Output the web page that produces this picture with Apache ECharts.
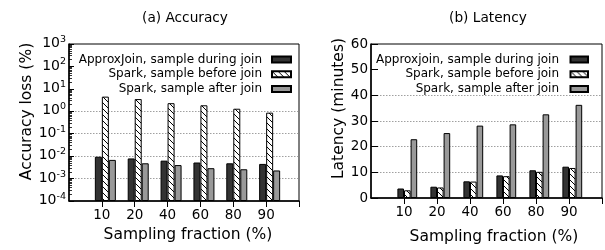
<!DOCTYPE html>
<html>
<head>
<meta charset="utf-8">
<script src="https://cdn.jsdelivr.net/npm/echarts@6/dist/echarts.min.js"></script>
<style>html,body{margin:0;padding:0;background:#fff;}#c{width:605px;height:250px;}</style>
</head>
<body>
<div id="c"></div>
<script>
// ---- data ----
const categories = ['10', '20', '40', '60', '80', '90'];
const seriesNamesAcc = ['ApproxJoin, sample during join', 'Spark, sample before join', 'Spark, sample after join'];
const seriesNamesLat = ['Approxjoin, sample during join', 'Spark, sample before join', 'Spark, sample after join'];
const accApprox = [0.0094, 0.0079, 0.0063, 0.0052, 0.0048, 0.0045];
const accBefore = [4.5, 3.5, 2.3, 1.85, 1.3, 0.87];
const accAfter  = [0.0068, 0.0048, 0.0040, 0.0029, 0.0026, 0.0023];
const latApprox = [3.7, 4.4, 6.5, 8.8, 10.8, 12.2];
const latBefore = [3.0, 4.1, 6.4, 8.5, 10.2, 11.7];
const latAfter  = [22.9, 25.3, 28.2, 28.7, 32.6, 36.3];
const titles = ['(a) Accuracy', '(b) Latency'];
const yNames = ['Accuracy loss (%)', 'Latency (minutes)'];
const xName = 'Sampling fraction (%)';

// ---- styles ----
const FONT = 'DejaVu Sans';
function hatchCanvas() {
  const c = document.createElement('canvas');
  c.width = 6; c.height = 6;
  const g = c.getContext('2d');
  g.fillStyle = '#fff'; g.fillRect(0, 0, 6, 6);
  g.strokeStyle = '#000'; g.lineWidth = 1;
  g.beginPath();
  for (const o of [-6, 0, 6]) { g.moveTo(o - 1, -1); g.lineTo(o + 7, 7); }
  g.stroke();
  return c;
}
const hatch = { image: hatchCanvas(), repeat: 'repeat' };
const fills = ['#333333', hatch, '#999999'];
const gridColorsLog = ['transparent', '#888', '#888', '#888', '#888', 'transparent', 'transparent', 'transparent'];
const gridColorsLin = ['transparent', '#888', '#888', '#888', '#888', 'transparent', 'transparent'];

function xAxisOpt(gridIndex, maxV, nameGap, namePad) {
  return {
    type: 'category', gridIndex, data: categories, boundaryGap: false, min: -1, max: maxV,
    axisLine: { lineStyle: { color: '#000', width: 1.5 } },
    axisTick: { show: true, inside: false, length: 6, interval: (i) => i >= 0, lineStyle: { color: '#000' } },
    axisLabel: { interval: (i) => i >= 0, formatter: (v) => (v == null ? '' : v), color: '#000', fontFamily: FONT, fontSize: 13.5, margin: 7 },
    splitLine: { show: false },
    name: xName, nameLocation: 'middle', nameGap,
    nameTextStyle: { color: '#000', fontFamily: FONT, fontSize: 15.5, padding: namePad }
  };
}

function barSeries(name, data, xi, fill, bw) {
  return {
    type: 'bar', name, data, xAxisIndex: xi, yAxisIndex: xi,
    barWidth: bw, barGap: '0%',
    itemStyle: { color: fill, borderColor: '#000', borderWidth: 1 },
    emphasis: { disabled: true }, animation: false
  };
}
function padSeries(xi, bw) {
  return { type: 'bar', name: '_pad' + xi, data: categories.map(() => '-'), xAxisIndex: xi, yAxisIndex: xi, barWidth: bw, barGap: '0%', itemStyle: { color: 'transparent' }, silent: true };
}

function legendOpt(names, right, pad, iw) {
  return {
    data: names, orient: 'vertical', align: 'right', right, top: 47,
    icon: 'rect', itemWidth: iw, itemHeight: 6, itemGap: 0,
    textStyle: { color: '#000', fontFamily: FONT, fontSize: 12, lineHeight: 14.8, padding: [0, pad, 0, 0] },
    selectedMode: false, inactiveColor: '#000'
  };
}

const option = {
  animation: false,
  textStyle: { fontFamily: FONT },
  title: [
    { text: titles[0], left: 185, top: 11, textAlign: 'center', padding: 0, textStyle: { fontFamily: FONT, fontSize: 13.7, fontWeight: 'normal', color: '#000' } },
    { text: titles[1], left: 488, top: 11, textAlign: 'center', padding: 0, textStyle: { fontFamily: FONT, fontSize: 13.7, fontWeight: 'normal', color: '#000' } }
  ],
  legend: [legendOpt(seriesNamesAcc, 308, 5, 19), legendOpt(seriesNamesLat, 11, 6.5, 17.5)],
  grid: [
    { left: 69, right: 306, top: 44, bottom: 49, show: true, borderColor: '#000', borderWidth: 1, backgroundColor: 'transparent' },
    { left: 371, right: 1, top: 44, bottom: 49, show: true, borderColor: '#000', borderWidth: 1, backgroundColor: 'transparent' }
  ],
  xAxis: [xAxisOpt(0, 5.7, 26, [0, 0, 0, 8]), xAxisOpt(1, 6, 31, [0, 0, 0, 15])],
  yAxis: [
    {
      type: 'log', gridIndex: 0, logBase: 10, min: 1e-4, max: 1e3, interval: 1, startValue: 1e-4,
      axisLine: { show: true, lineStyle: { color: '#000', width: 1.5 } },
      axisTick: { show: true, inside: true, length: 5, lineStyle: { color: '#000' } },
      minorTick: { show: true, splitNumber: 9, length: 3, lineStyle: { color: '#000', width: 0.8 } },
      axisLabel: {
        margin: 3, color: '#000', fontFamily: FONT,
        formatter: (v) => '{b|10}{s|' + Math.round(Math.log10(v)) + '}',
        rich: {
          b: { fontFamily: FONT, fontSize: 14, lineHeight: 13, padding: [7, 0, 0, 0], verticalAlign: 'bottom', color: '#000' },
          s: { fontFamily: FONT, fontSize: 9.5, lineHeight: 10, padding: [0, 0, 6, 0], verticalAlign: 'bottom', color: '#000' }
        }
      },
      splitLine: { show: true, lineStyle: { color: gridColorsLog, type: [1.5, 1.5], width: 0.8 } },
      name: yNames[0], nameLocation: 'middle', nameGap: 33,
      nameTextStyle: { color: '#000', fontFamily: FONT, fontSize: 15.5, padding: [0, 0, 0, 22] }
    },
    {
      type: 'value', gridIndex: 1, min: 0, max: 60, interval: 10,
      axisLine: { show: true, lineStyle: { color: '#000', width: 1.5 } },
      axisTick: { show: true, inside: true, length: 7, lineStyle: { color: '#000' } },
      axisLabel: { margin: 3, color: '#000', fontFamily: FONT, fontSize: 13.5 },
      splitLine: { show: true, lineStyle: { color: gridColorsLin, type: [1.5, 1.5], width: 0.8 } },
      name: yNames[1], nameLocation: 'middle', nameGap: 24,
      nameTextStyle: { color: '#000', fontFamily: FONT, fontSize: 15.5, padding: [0, 0, 0, 25] }
    }
  ],
  series: [
    padSeries(0, 7),
    barSeries(seriesNamesAcc[0], accApprox, 0, fills[0], 7),
    barSeries(seriesNamesAcc[1], accBefore, 0, fills[1], 7),
    barSeries(seriesNamesAcc[2], accAfter, 0, fills[2], 7),
    padSeries(1, 6.6),
    barSeries(seriesNamesLat[0], latApprox, 1, fills[0], 6.6),
    barSeries(seriesNamesLat[1], latBefore, 1, fills[1], 6.6),
    barSeries(seriesNamesLat[2], latAfter, 1, fills[2], 6.6)
  ]
};
const chart = echarts.init(document.getElementById('c'), null, { renderer: 'canvas' });
chart.setOption(option);
</script>
</body>
</html>
